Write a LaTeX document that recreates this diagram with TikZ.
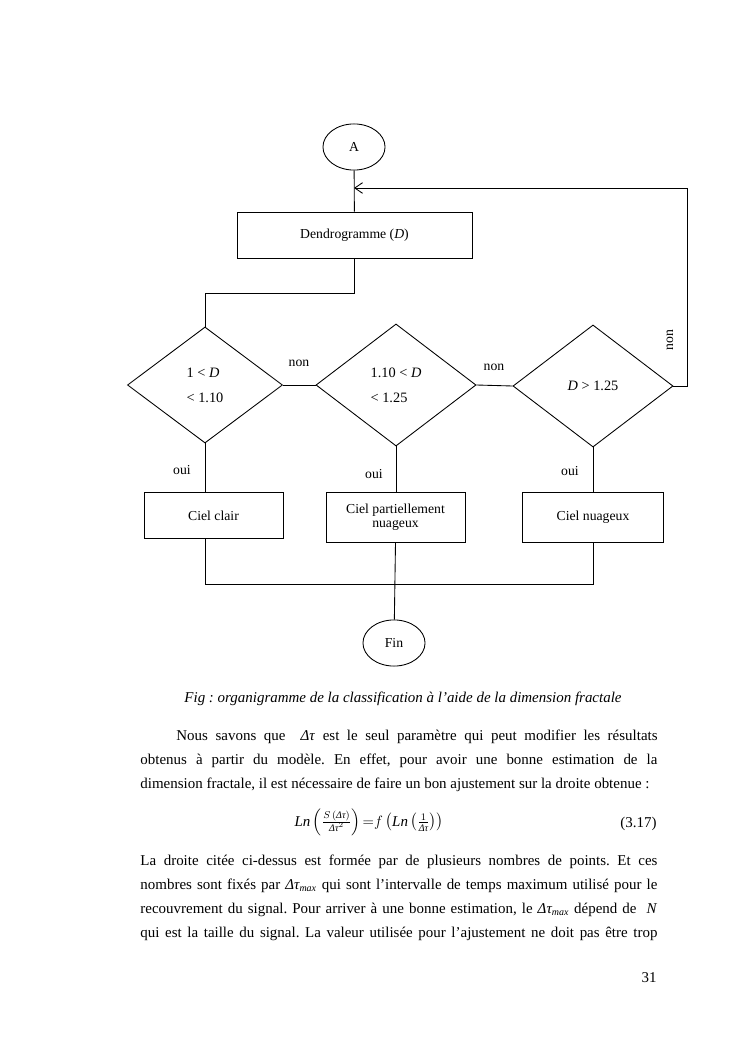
\documentclass[tikz,border=0pt]{standalone}
\usepackage{amsmath}
\usepackage{fontspec}
\setmainfont{Liberation Serif}
\usetikzlibrary{arrows.meta,shapes.geometric}
\frenchspacing

\begin{document}
\begin{tikzpicture}[x=0.028188cm,y=-0.028188cm,line width=0.7pt,
    boite/.style={draw,rectangle,inner sep=2pt,align=center,font=\fontsize{11}{13}\selectfont},
    losange/.style={draw,diamond,inner sep=0pt,align=left,font=\fontsize{11.5}{13}\selectfont},
    bulle/.style={draw,ellipse,minimum width=1.75cm,minimum height=1.3cm,font=\fontsize{11}{13}\selectfont},
    etiq/.style={inner sep=1pt,font=\fontsize{11}{13}\selectfont},
    ligne/.style={anchor=base west,inner sep=0pt,font=\fontsize{12}{14}\selectfont}]
  \useasboundingbox (0,0) rectangle (745,1053);
  \node[bulle] (A) at (354,147) {A};
  \node[boite,minimum width=6.62cm,minimum height=1.32cm] (dendro) at (354.5,235.5) {Dendrogramme (\textit{D})};
  \node[losange,minimum width=4.37cm,minimum height=3.27cm] (d1) at (205,385) {1 < \textit{D}\\[7pt]< 1.10};
  \node[losange,minimum width=4.51cm,minimum height=3.44cm] (d2) at (396,385) {1.10 < \textit{D}\\[7pt]< 1.25};
  \node[losange,minimum width=4.51cm,minimum height=3.44cm] (d3) at (593,386) {\textit{D} > 1.25};
  \node[boite,minimum width=3.92cm,minimum height=1.32cm] (b1) at (213.5,515.5) {Ciel clair};
  \node[boite,minimum width=3.92cm,minimum height=1.41cm] (b2) at (395.5,517) {Ciel partiellement\\[-2pt]nuageux};
  \node[boite,minimum width=3.95cm,minimum height=1.41cm] (b3) at (593,517) {Ciel nuageux};
  \node[bulle] (fin) at (394,643) {Fin};
  \node[etiq] (non1) at (299,363) {non};
  \node[etiq] (non2) at (494,367) {non};
  \node[etiq,rotate=90] (non3) at (670,340) {non};
  \node[etiq] (oui1) at (182,470) {oui};
  \node[etiq] (oui2) at (374,474) {oui};
  \node[etiq] (oui3) at (570,471) {oui};
  \coordinate (jonction) at (354,188);
  \coordinate (retour) at (687,188);
  \draw (A) -- (dendro);
  \draw[-{Straight Barb[length=2.2mm,width=3mm]}] (d3.east) -| (retour) -- (jonction);
  \draw (dendro.south) -- ++(0,34) -| (d1.north);
  \draw (d1.east) -- (d2.west);
  \draw (d2.east) -- (d3.west);
  \draw (d1.south) -- (d1.south |- b1.north);
  \draw (d2.south) -- (d2.south |- b2.north);
  \draw (d3.south) -- (b3.north);
  \draw (d1.south |- b1.south) -- ++(0,45) -| (b3.south);
  \draw (b2.south) -- (fin);
  \node[ligne,anchor=base,font=\fontsize{12}{14}\selectfont\itshape] (legende) at (403,702) {Fig : organigramme de la classification à l’aide de la dimension fractale};
  \node[ligne] (p1) at (176,740) {\makebox[13.56cm][s]{Nous savons que \ \textit{Δτ} est le seul paramètre qui peut modifier les résultats}};
  \node[ligne] (p2) at (140,764) {\makebox[14.57cm][s]{obtenus à partir du modèle. En effet, pour avoir une bonne estimation de la}};
  \node[ligne] (p3) at (140,788) {dimension fractale, il est nécessaire de faire un bon ajustement sur la droite obtenue :};
  \node[ligne,anchor=base] (eq) at (369,826) {$\mathit{Ln}\left(\frac{S\,(\textit{Δτ})}{\textit{Δτ}^{2}}\right){=}f\left(\mathit{Ln}\left(\frac{1}{\textit{Δτ}}\right)\right)$};
  \node[ligne,anchor=base east] (numeq) at (657,827) {(3.17)};
  \node[ligne] (q1) at (140,865) {\makebox[14.57cm][s]{La droite citée ci-dessus est formée par de plusieurs nombres de points. Et ces}};
  \node[ligne] (q2) at (140,889) {\makebox[14.57cm][s]{nombres sont fixés par $\textit{Δτ}_{\mathit{max}}$ qui sont l’intervalle de temps maximum utilisé pour le}};
  \node[ligne] (q3) at (140,913) {\makebox[14.57cm][s]{recouvrement du signal. Pour arriver à une bonne estimation, le $\textit{Δτ}_{\mathit{max}}$ dépend de \ \textit{N}}};
  \node[ligne] (q4) at (140,937) {\makebox[14.57cm][s]{qui est la taille du signal. La valeur utilisée pour l’ajustement ne doit pas être trop}};
  \node[ligne,anchor=base east] (page) at (657,982) {31};
\end{tikzpicture}
\end{document}
